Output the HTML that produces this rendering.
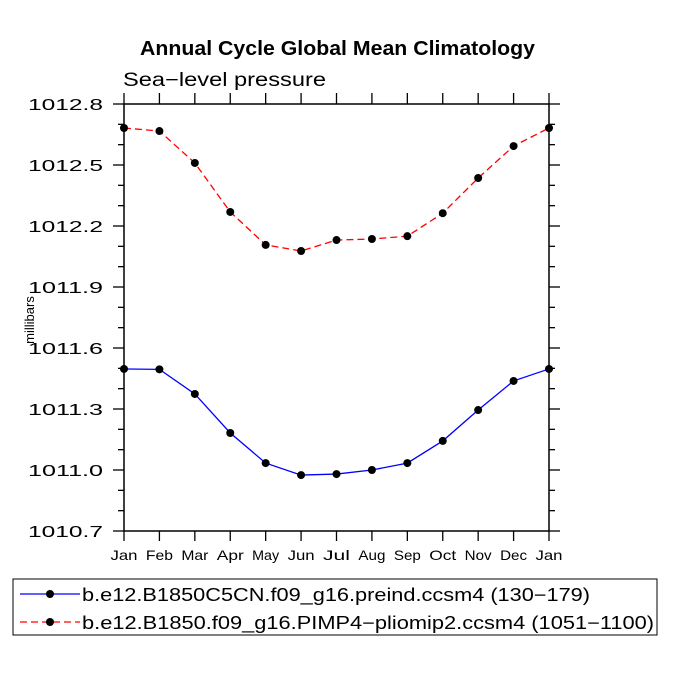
<!DOCTYPE html>
<html><head><meta charset="utf-8"><style>body{margin:0;background:#fff}svg{display:block}text{font-family:"Liberation Sans",sans-serif}</style></head>
<body>
<svg id="chart" width="675" height="675" viewBox="0 0 675 675">
<text x="140" y="55" font-size="20" font-weight="bold" textLength="395" lengthAdjust="spacingAndGlyphs">Annual Cycle Global Mean Climatology</text>
<text x="123" y="86" font-size="19" textLength="203" lengthAdjust="spacingAndGlyphs">Sea−level pressure</text>
<text transform="translate(34,320) rotate(-90)" text-anchor="middle" font-size="13">millibars</text>
<g id="axes"></g><g id="series"></g>
<g>
<rect x="13" y="579" width="644" height="56" fill="none" stroke="#000" stroke-width="1"/>
<line x1="20" y1="594" x2="80" y2="594" stroke="#00f" stroke-width="1.3"/><circle cx="50" cy="594" r="4" fill="#000"/>
<text x="82" y="601" font-size="18" textLength="508" lengthAdjust="spacingAndGlyphs">b.e12.B1850C5CN.f09_g16.preind.ccsm4 (130−179)</text>
<line x1="20" y1="622" x2="80" y2="622" stroke="#f00" stroke-width="1.3" stroke-dasharray="7,4"/><circle cx="50" cy="622" r="4" fill="#000"/>
<text x="82" y="629" font-size="18" textLength="572" lengthAdjust="spacingAndGlyphs">b.e12.B1850.f09_g16.PIMP4−pliomip2.ccsm4 (1051−1100)</text>
</g>
</svg>
<script>
const months=["Jan","Feb","Mar","Apr","May","Jun","Jul","Aug","Sep","Oct","Nov","Dec","Jan"];
const preind=[1011.497,1011.495,1011.374,1011.182,1011.034,1010.975,1010.98,1011.0,1011.034,1011.143,1011.295,1011.438,1011.497];
const pliomip=[1012.682,1012.667,1012.51,1012.269,1012.107,1012.077,1012.131,1012.136,1012.15,1012.263,1012.436,1012.593,1012.682];
const yTicks=[1010.7,1011.0,1011.3,1011.6,1011.9,1012.2,1012.5,1012.8];
const X0=124,X1=549,Y0=531,Y1=104,ymin=1010.7,ymax=1012.8;
const xs=i=>X0+(X1-X0)*i/(months.length-1);
const ys=v=>Y0-(v-ymin)/(ymax-ymin)*(Y0-Y1);
const NS="http://www.w3.org/2000/svg";
function mk(t,a,p){const e=document.createElementNS(NS,t);for(const k in a)e.setAttribute(k,a[k]);p.appendChild(e);return e;}
const ax=document.getElementById('axes');
const frame=mk('rect',{x:X0,y:Y1,width:X1-X0,height:Y0-Y1,fill:'none',stroke:'#000','stroke-width':1.5},ax);


months.forEach((m,i)=>{const x=xs(i);
mk('line',{x1:x,y1:Y0,x2:x,y2:Y0+10,stroke:'#000','stroke-width':1.3},ax);
mk('line',{x1:x,y1:Y1,x2:x,y2:Y1-11,stroke:'#000','stroke-width':1.3},ax);
const t=mk('text',{x:x,y:Y0+29,'text-anchor':'middle','font-size':14,textLength:m.length*9,lengthAdjust:'spacingAndGlyphs'},ax);t.textContent=m;

});
for(let v=ymin;v<=ymax+1e-6;v+=0.1){const y=ys(v);const maj=yTicks.some(t=>Math.abs(t-v)<1e-6);const L=maj?11:6;
mk('line',{x1:X0-L,y1:y,x2:X0,y2:y,stroke:'#000','stroke-width':1.3},ax);
mk('line',{x1:X1,y1:y,x2:X1+L,y2:y,stroke:'#000','stroke-width':1.3},ax);}
yTicks.forEach(v=>{const t=mk('text',{x:X0-21,y:ys(v)+6,'text-anchor':'end','font-size':16,textLength:75,lengthAdjust:'spacingAndGlyphs'},ax);t.textContent=v.toFixed(1);

});
const sg=document.getElementById('series');
function series(vals,col,dash,name){const g=mk('g',{},sg);


mk('polyline',{points:vals.map((v,i)=>xs(i)+','+ys(v)).join(' '),fill:'none',stroke:col,'stroke-width':1.3,'stroke-dasharray':dash},g);
vals.forEach((v,i)=>{const c=mk('circle',{cx:xs(i),cy:ys(v),r:4,fill:'#000'},g);

});}
series(preind,'#00f','none','series-preind');
series(pliomip,'#f00','7,4','series-pliomip');
</script>
</body></html>
